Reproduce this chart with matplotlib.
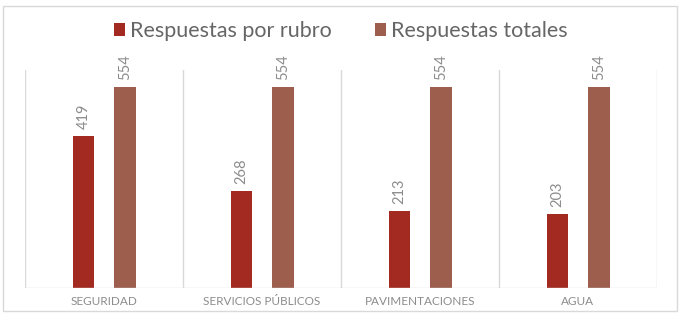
import matplotlib.pyplot as plt
import numpy as np
from matplotlib.patches import Rectangle

# datos
categorias = ["SEGURIDAD", "SERVICIOS PÚBLICOS", "PAVIMENTACIONES", "AGUA"]
por_rubro = [419, 268, 213, 203]
totales = [554, 554, 554, 554]

rojo = "#A22A21"
marron = "#9D5E4E"
gris_txt = "#8C8C8C"
gris_linea = "#D9D9D9"

plt.rcParams["font.family"] = ["Lato", "DejaVu Sans"]

fig = plt.figure(figsize=(6.81, 3.16), dpi=100)
fig.patch.set_facecolor("white")

# marco exterior
fig.patches.append(Rectangle((3 / 681, 1 - 311 / 316), 674 / 681, 305 / 316,
                             transform=fig.transFigure, fill=False,
                             edgecolor=gris_linea, linewidth=1))

ax = fig.add_axes([25 / 681, 1 - 288 / 316, 632 / 681, 218 / 316])
x = np.arange(len(categorias))
w = 0.135
b1 = ax.bar(x - 0.128, por_rubro, w, color=rojo, label="Respuestas por rubro", zorder=3)
b2 = ax.bar(x + 0.132, totales, w, color=marron, label="Respuestas totales", zorder=3)

for barras in (b1, b2):
    for r in barras:
        ax.annotate(str(int(r.get_height())),
                    (r.get_x() + r.get_width() / 2, r.get_height()),
                    xytext=(0, 5), textcoords="offset points",
                    rotation=90, ha="center", va="bottom",
                    color=gris_txt, fontsize=10.5)

ax.set_xlim(-0.5, len(categorias) - 0.5)
ax.set_ylim(0, 600)
for s in np.arange(-0.5, len(categorias), 1.0):
    ax.axvline(s, color=gris_linea, linewidth=1, zorder=1)

for sp in ax.spines.values():
    sp.set_visible(False)
ax.axhline(0, color=gris_linea, linewidth=1, zorder=4)
ax.set_yticks([])
ax.set_xticks(x)
ax.set_xticklabels(categorias, fontsize=8.5, color=gris_txt)
ax.tick_params(axis="x", length=0, pad=6)

fig.legend(handles=[b1, b2], loc="center", bbox_to_anchor=(0.5, 1 - 31 / 316),
           ncol=2, frameon=False, labelcolor="#666666",
           prop={"size": 15.5},
           handlelength=0.55, handleheight=0.55, handletextpad=0.2,
           columnspacing=2.0)

fig.savefig("out.png", dpi=100, facecolor="white")
